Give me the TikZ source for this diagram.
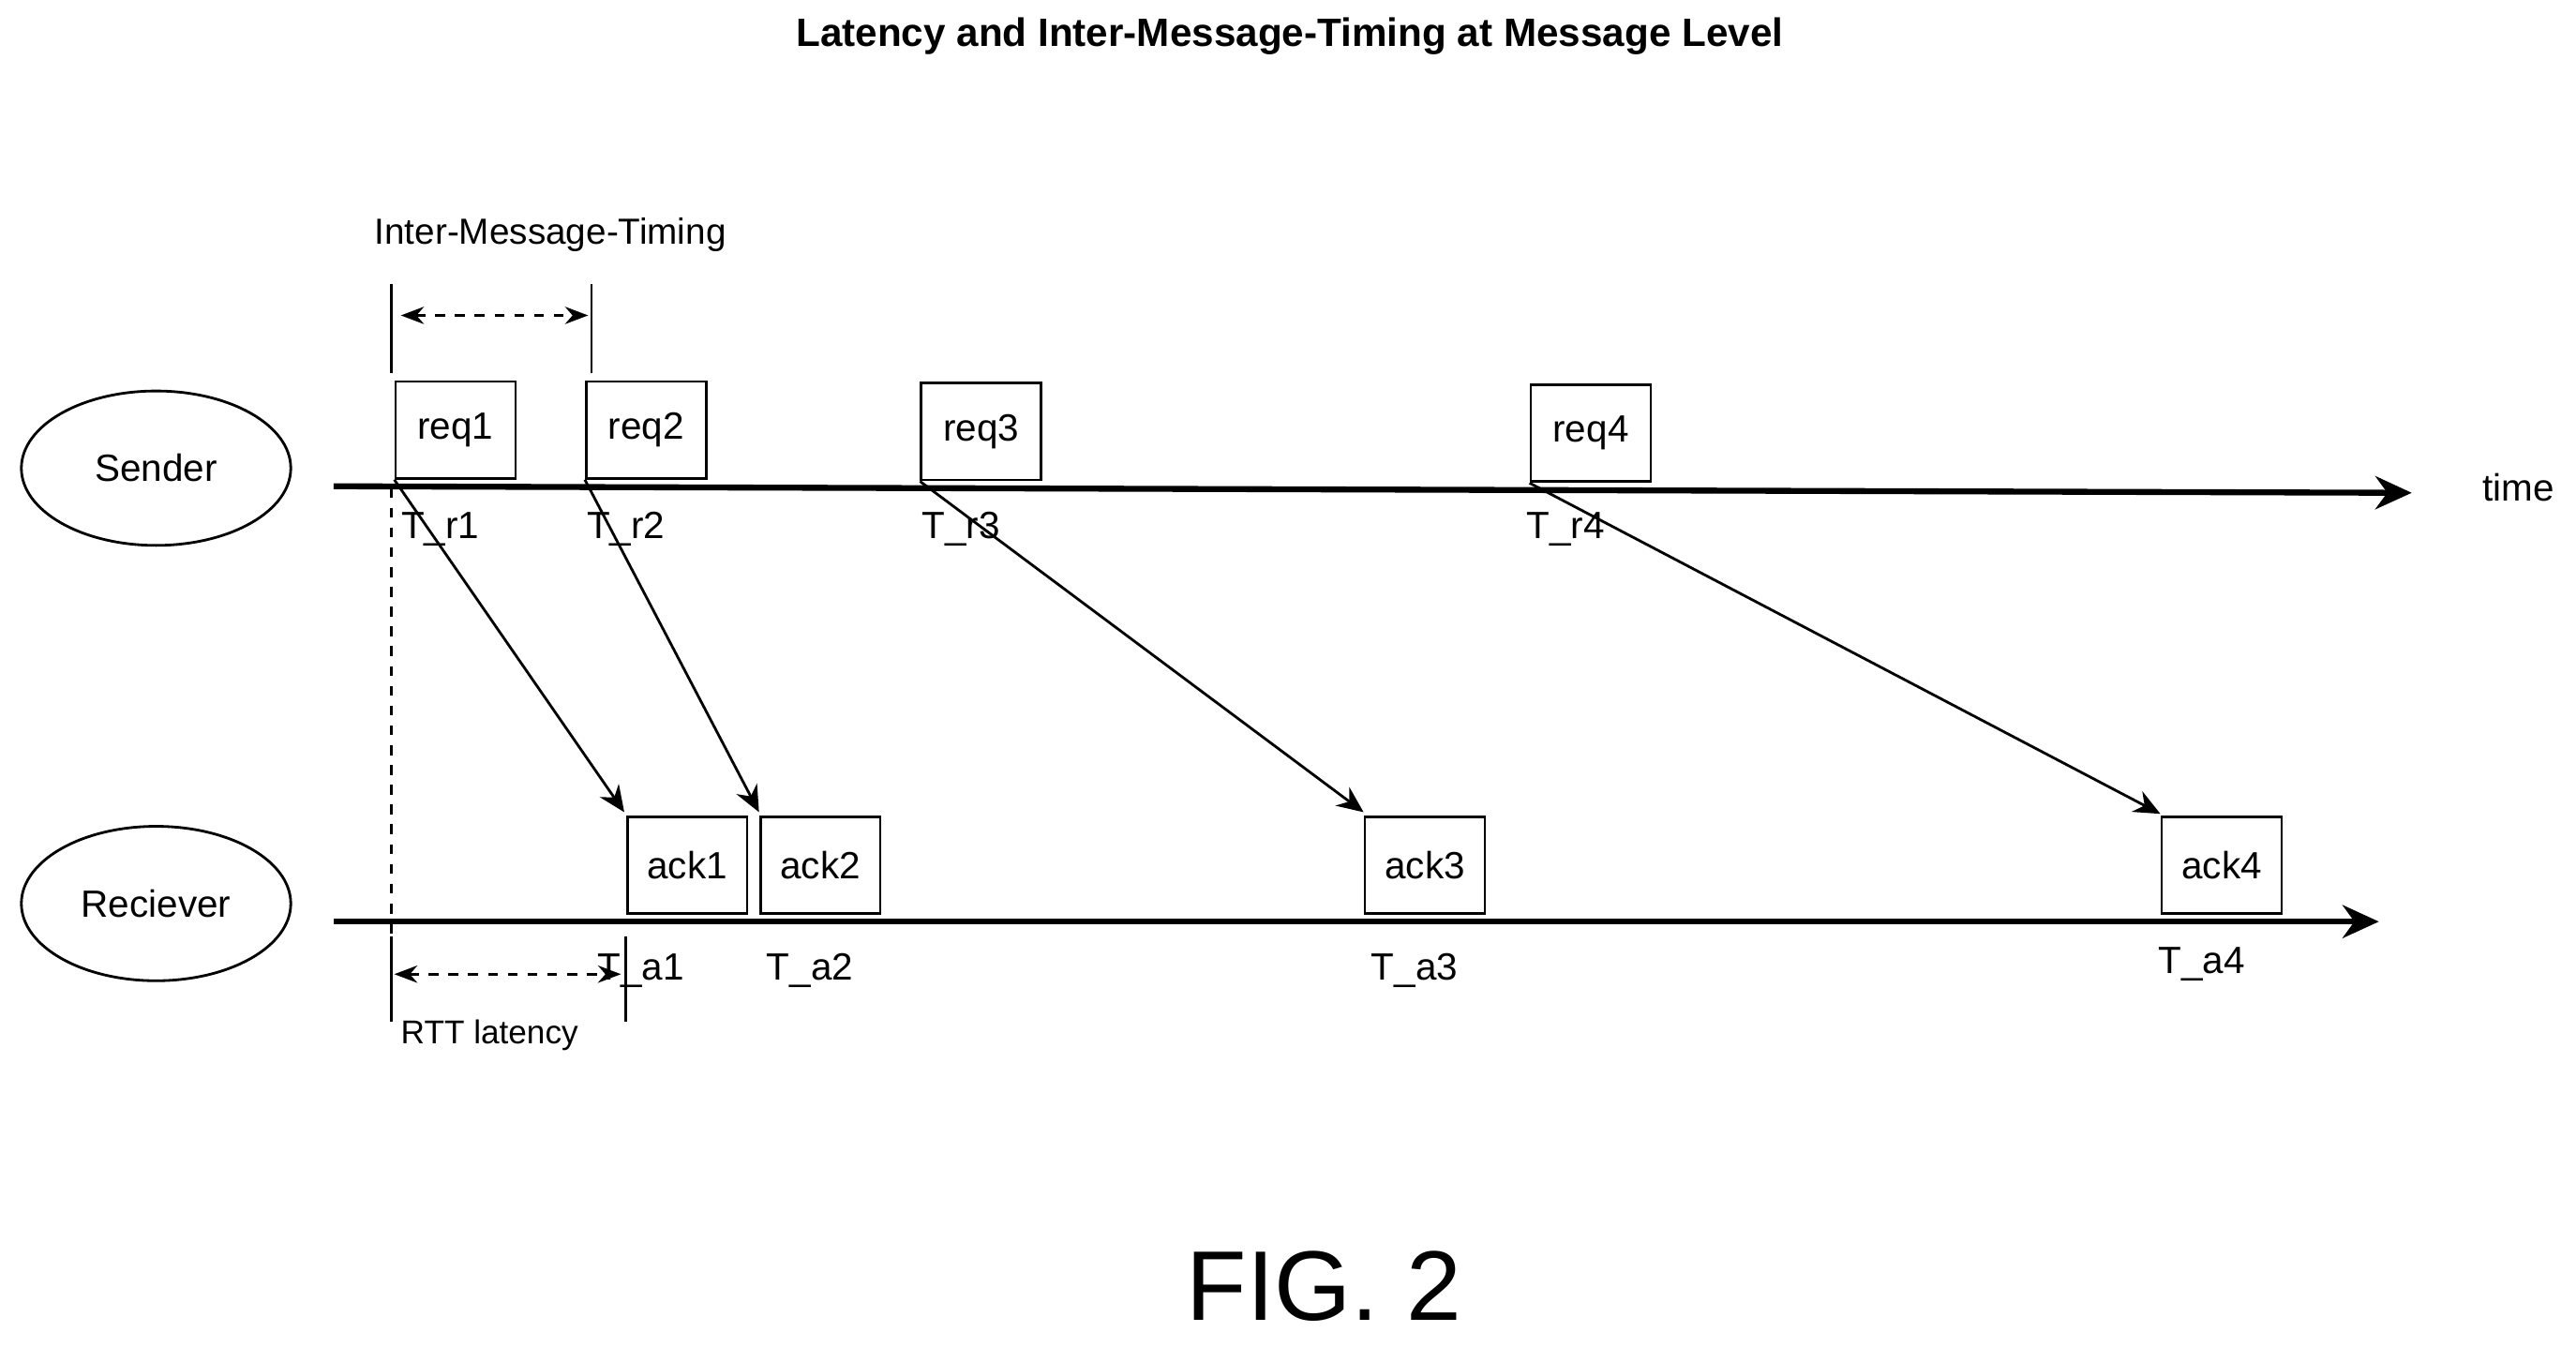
\documentclass[tikz,border=0pt]{standalone}
\usepackage{fontspec}
\setmainfont{Liberation Sans}
\usetikzlibrary{shapes, arrows.meta}
\tikzstyle{party} = [ellipse, draw=black, minimum width=164\un, minimum height=94\un, font=\fontsize{11.5}{13}\selectfont]
\tikzstyle{msg} = [rectangle, draw=black, minimum width=73\un, minimum height=59\un, anchor=south west, inner sep=0pt, font=\fontsize{11.5}{13}\selectfont]
\tikzstyle{lbl} = [font=\fontsize{11.5}{13}\selectfont]
\tikzstyle{axis} = [line width=1.8pt, -{Stealth[length=11pt,width=10pt]}]
\tikzstyle{arrow} = [-{Stealth[length=8pt,width=7pt]}]
\tikzstyle{span} = [dashed, {Stealth[length=7pt]}-{Stealth[length=7pt]}]
\newcommand{\un}{*0.0175cm}

\begin{document}
\begin{tikzpicture}[x=0.0175cm, y=-0.0175cm, line width=0.8pt]
\useasboundingbox (0,0) rectangle (1568,819.4);
\node[font=\fontsize{12}{14}\selectfont\bfseries] (title) at (785,22) {Latency and Inter-Message-Timing at Message Level};

% parties and time axes
\node[party] (sender) at (95,285) {Sender};
\node[party] (receiver) at (95,550) {Reciever};
\coordinate (s0) at (203,296);
\coordinate (s1) at (1468,300);
\coordinate (r0) at (203,561);
\coordinate (r1) at (1448,561);
\draw[axis] (s0) -- (s1);
\draw[axis] (r0) -- (r1);
\node[lbl] (time) at (1533,297) {time};

% requests
\node[msg] (req1) at (240,292) {req1};
\node[msg] (req2) at (356,292) {req2};
\node[msg] (req3) at (560,293) {req3};
\node[msg] (req4) at (931,294) {req4};
\node[lbl] (tr1) at (268,322) {T\_r1};
\node[lbl] (tr2) at (381,322) {T\_r2};
\node[lbl] (tr3) at (585,322) {T\_r3};
\node[lbl] (tr4) at (953,322) {T\_r4};

% acknowledgements
\node[msg] (ack1) at (381,557) {ack1};
\node[msg] (ack2) at (462,557) {ack2};
\node[msg] (ack3) at (830,557) {ack3};
\node[msg] (ack4) at (1315,557) {ack4};
\node[lbl] (ta1) at (390,591) {T\_a1};
\node[lbl] (ta2) at (493,591) {T\_a2};
\node[lbl] (ta3) at (861,591) {T\_a3};
\node[lbl] (ta4) at (1340,587) {T\_a4};

\draw[arrow] (req1.south west) -- ([xshift=-1\un,yshift=2\un]ack1.north west);
\draw[arrow] (req2.south west) -- ([yshift=2\un]ack2.north west);
\draw[arrow] (req3.south west) -- ([yshift=2\un]ack3.north west);
\draw[arrow] (req4.south west) -- ([yshift=1\un]ack4.north west);

% inter-message timing
\coordinate (im0) at (238,173);
\coordinate (im1) at (360,173);
\draw (im0) -- ++(0,54);
\draw (im1) -- ++(0,54);
\draw[span] (244,192) -- (358,192);
\node[font=\fontsize{11}{13}\selectfont] (imt) at (335,143) {Inter-Message-Timing};

% round trip latency
\coordinate (rt0) at (238,570);
\coordinate (rt1) at (381,570);
\draw[dashed] (238,297) -- (rt0);
\draw (rt0) -- ++(0,52);
\draw (rt1) -- ++(0,52);
\draw[span] (240,593) -- (378,593);
\node[font=\fontsize{10}{12}\selectfont] (rtt) at (298,630) {RTT latency};

\node[font=\fontsize{30}{34}\selectfont] (fig) at (806,783) {FIG. 2};
\end{tikzpicture}
\end{document}
